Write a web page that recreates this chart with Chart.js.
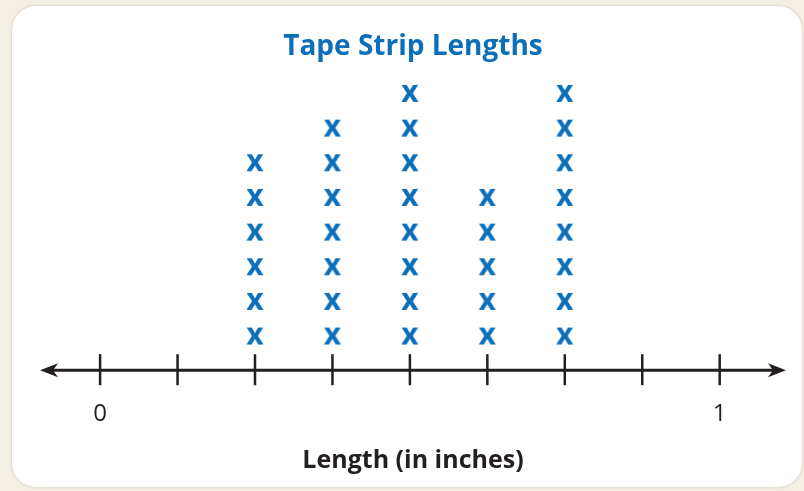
<!DOCTYPE html>
<html>
<head>
    <title>Tape Strip Lengths</title>
    <script src="https://cdn.jsdelivr.net/npm/chart.js"></script>
    <style>
        html, body { margin: 0; padding: 0; background: #f4efe6; }
        #card {
            position: absolute; left: 12px; top: 6px; width: 790px; height: 481px;
            background: #ffffff; border-radius: 24px;
            box-shadow: 0 0 3px rgba(120, 100, 70, 0.35);
        }
        #wrap { position: absolute; left: 0; top: 0; width: 804px; height: 491px; }
    </style>
</head>
<body>
    <div id="card"></div>
    <div id="wrap"><canvas id="linePlot" width="804" height="491"></canvas></div>
    <script>
        // lengths in inches and how many strips had each length
        var lengths = [0.25, 0.375, 0.5, 0.625, 0.75];
        var counts = [6, 7, 8, 5, 8];

        // number line ticks every 1/8 inch, only 0 and 1 are labelled
        var tickValues = [0, 0.125, 0.25, 0.375, 0.5, 0.625, 0.75, 0.875, 1];
        var tickLabels = ['0', '', '', '', '', '', '', '', '1'];

        var blue = '#0c6fb9';
        var ink = '#231f20';

        // stack one x mark per strip above its length
        var points = [];
        for (var i = 0; i < lengths.length; i++) {
            for (var k = 1; k <= counts[i]; k++) {
                points.push({ x: lengths[i], y: k });
            }
        }

        // the "x" glyph used as point style
        function makeMark() {
            var c = document.createElement('canvas');
            c.width = 26; c.height = 26;
            var g = c.getContext('2d');
            g.font = 'bold 30px "Open Sans"';
            g.fillStyle = blue;
            g.textAlign = 'center';
            g.textBaseline = 'alphabetic';
            var m = g.measureText('x');
            var h = m.actualBoundingBoxAscent + m.actualBoundingBoxDescent;
            g.fillText('x', 13, 13 + h / 2 - m.actualBoundingBoxDescent);
            return c;
        }

        // axis line with arrows and tick marks drawn through the x scale
        var numberLine = {
            id: 'numberLine',
            afterDraw: function (chart) {
                var ctx = chart.ctx;
                var xs = chart.scales.x;
                var y = chart.scales.y.getPixelForValue(0);
                var l = xs.left, r = xs.right;
                ctx.save();
                ctx.strokeStyle = ink;
                ctx.fillStyle = ink;
                ctx.lineWidth = 3;
                ctx.beginPath();
                ctx.moveTo(l + 6, y);
                ctx.lineTo(r - 6, y);
                ctx.stroke();
                // arrow heads
                ctx.beginPath();
                ctx.moveTo(l, y);
                ctx.lineTo(l + 18, y - 7);
                ctx.lineTo(l + 13, y);
                ctx.lineTo(l + 18, y + 7);
                ctx.closePath();
                ctx.fill();
                ctx.beginPath();
                ctx.moveTo(r, y);
                ctx.lineTo(r - 18, y - 7);
                ctx.lineTo(r - 13, y);
                ctx.lineTo(r - 18, y + 7);
                ctx.closePath();
                ctx.fill();
                // ticks
                ctx.lineWidth = 2.5;
                xs.ticks.forEach(function (t) {
                    var px = xs.getPixelForValue(t.value);
                    ctx.beginPath();
                    ctx.moveTo(px, y - 16);
                    ctx.lineTo(px, y + 15);
                    ctx.stroke();
                });
                ctx.restore();
            }
        };

        function draw() {
            var ctx = document.getElementById('linePlot').getContext('2d');
            new Chart(ctx, {
                type: 'scatter',
                data: {
                    datasets: [{
                        label: 'Tape strips',
                        data: points,
                        pointStyle: makeMark(),
                        clip: false
                    }]
                },
                options: {
                    responsive: false,
                    animation: false,
                    events: [],
                    layout: { padding: { left: 40, right: 18, top: 0, bottom: 15 } },
                    plugins: {
                        legend: { display: false },
                        tooltip: { enabled: false },
                        title: {
                            display: true,
                            text: 'Tape Strip Lengths',
                            color: blue,
                            font: { family: 'Open Sans', size: 28, weight: 'bold' },
                            padding: { top: 30, bottom: 12 }
                        }
                    },
                    scales: {
                        x: {
                            type: 'linear',
                            min: -0.097,
                            max: 1.107,
                            afterBuildTicks: function (axis) {
                                axis.ticks = tickValues.map(function (v) { return { value: v }; });
                            },
                            grid: { display: false, drawTicks: false },
                            border: { display: false },
                            ticks: {
                                autoSkip: false,
                                maxRotation: 0,
                                padding: 30,
                                color: ink,
                                font: { family: 'Open Sans', size: 24 },
                                callback: function (value, index) { return tickLabels[index]; }
                            },
                            title: {
                                display: true,
                                text: 'Length (in inches)',
                                color: ink,
                                font: { family: 'Open Sans', size: 25, weight: 'bold' },
                                padding: { top: -13, bottom: 0 }
                            }
                        },
                        y: {
                            display: false,
                            min: 0,
                            max: 8.5
                        }
                    }
                },
                plugins: [numberLine]
            });
        }

        if (document.fonts && document.fonts.load) {
            Promise.all([
                document.fonts.load('bold 30px "Open Sans"'),
                document.fonts.load('24px "Open Sans"')
            ]).then(draw, draw);
        } else {
            draw();
        }
    </script>
</body>
</html>
